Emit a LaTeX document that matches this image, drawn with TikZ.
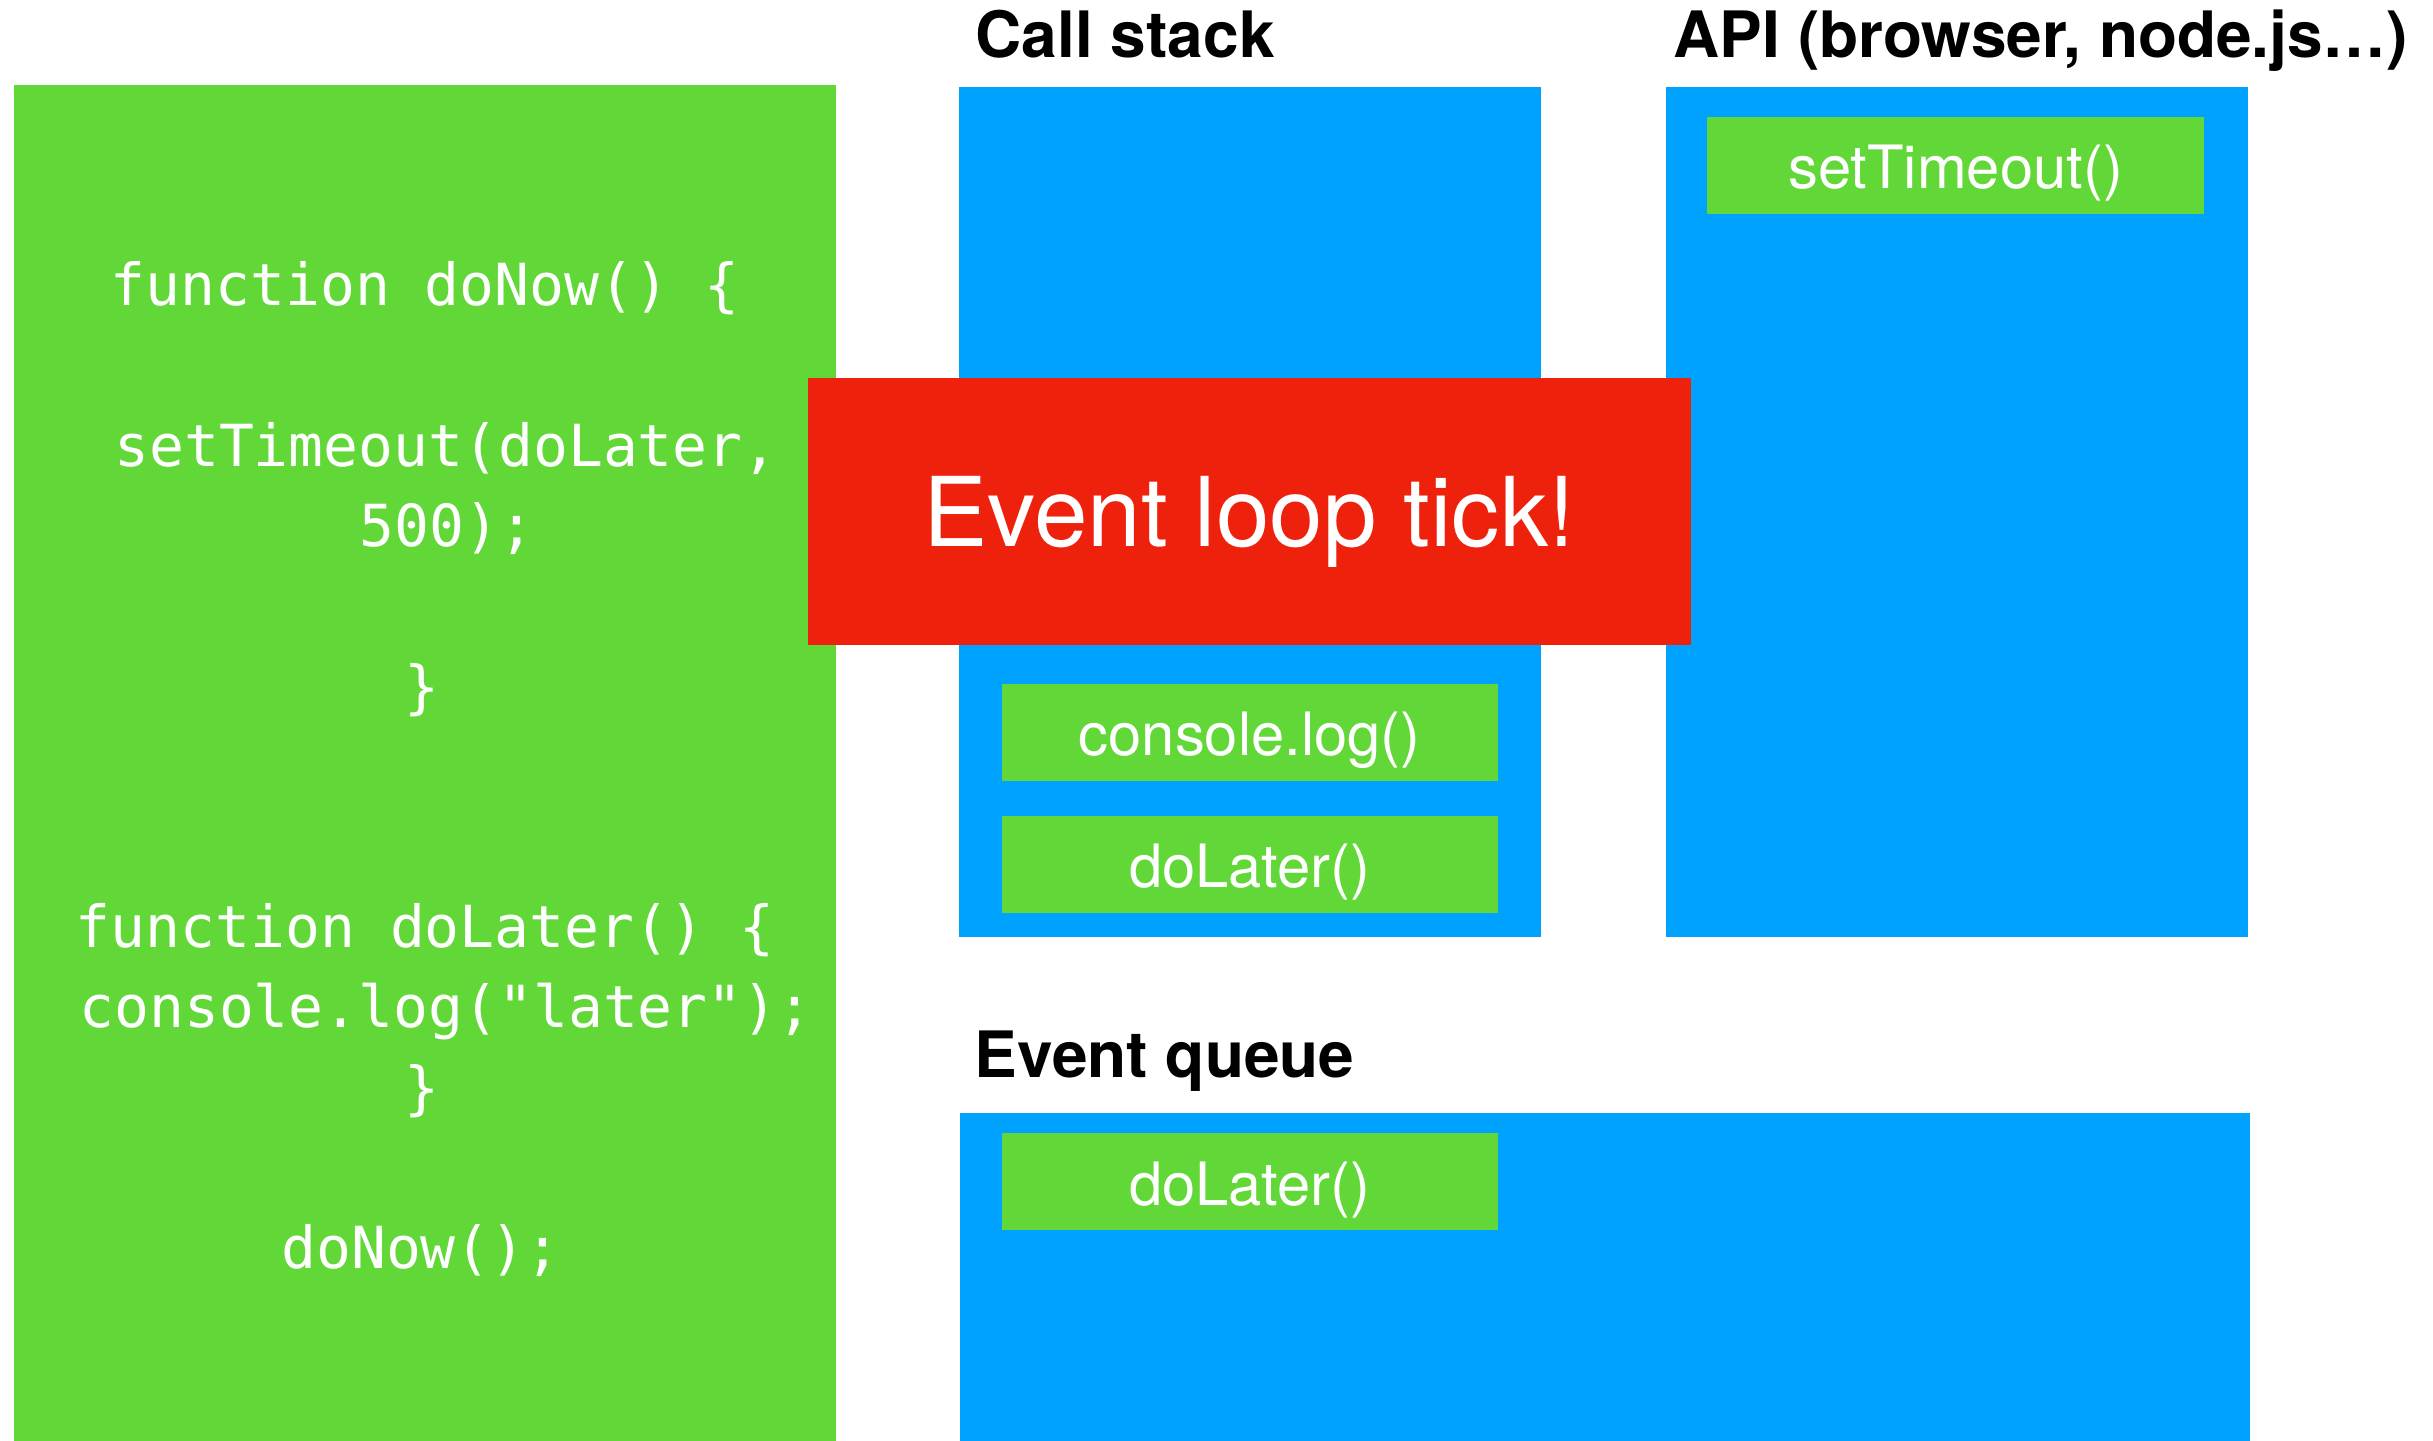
\documentclass[tikz,border=0pt]{standalone}
\usepackage{fontspec}
\setmainfont{TeX Gyre Heros}
\newfontfamily\codefont{DejaVu Sans Mono}
\usetikzlibrary{positioning}
\definecolor{codegreen}{HTML}{62D838}
\definecolor{boxblue}{HTML}{00A2FF}
\definecolor{tickred}{HTML}{EE220C}
\tikzset{
  panel/.style={fill=boxblue, anchor=north west, inner sep=0pt},
  item/.style={fill=codegreen, text=white, inner sep=0pt, minimum width=4.965cm, minimum height=0.965cm,
    text height=13.4pt, text depth=0pt, font=\fontsize{17}{17}\selectfont},
  title/.style={anchor=base west, inner sep=0pt, font=\fontsize{18.2}{18.2}\selectfont\bfseries},
  codeline/.style={anchor=base, inner sep=0pt, text=white, font=\codefont\fontsize{16.5}{16.5}\selectfont}
}

\begin{document}
\begin{tikzpicture}
    \useasboundingbox (0,0) rectangle (24.33,-14.41);

    \node [fill=codegreen, anchor=north west, inner sep=0pt, minimum width=8.215cm, minimum height=13.57cm] (code) at (0.135,-0.84) {};
    \node [codeline] (code1) at (4.25,-3.06) {function doNow() \{};
    \node [codeline] (code2) at (4.46,-4.664) {setTimeout(doLater,};
    \node [codeline] (code3) at (4.47,-5.466) {500);};
    \node [codeline] (code4) at (4.22,-7.07) {\}};
    \node [codeline] (code5) at (4.25,-9.476) {function doLater() \{};
    \node [codeline] (code6) at (4.46,-10.278) {console.log("later");};
    \node [codeline] (code7) at (4.22,-11.08) {\}};
    \node [codeline] (code8) at (4.21,-12.684) {doNow();};

    \node [panel, minimum width=5.825cm, minimum height=8.5cm] (stack) at (9.58,-0.86) {};
    \node [panel, minimum width=5.815cm, minimum height=8.5cm] (api) at (16.655,-0.86) {};
    \node [panel, minimum width=12.9cm, minimum height=3.29cm] (queue) at (9.59,-11.12) {};

    \node [title] (stacklabel) at (9.75,-0.58) {Call stack};
    \node [title] (apilabel) at (16.73,-0.58) {API (browser, node.js…)};
    \node [title] (queuelabel) at (9.74,-10.777) {Event queue};

    \node [item] (timer) at (19.555,-1.653) {setTimeout()};
    \node [item] (log) at (12.4975,-7.3225) {console.log()};
    \node [item] (later) at (12.4975,-8.643) {doLater()};
    \node [item] (queued) at (12.4975,-11.815) {doLater()};

    \node [fill=tickred, text=white, inner sep=0pt, minimum width=8.83cm, minimum height=2.67cm,
      text height=20.2pt, text depth=0pt, font=\fontsize{27.4}{27.4}\selectfont] (tick) at (12.495,-5.115) {Event loop tick!};
\end{tikzpicture}
\end{document}
